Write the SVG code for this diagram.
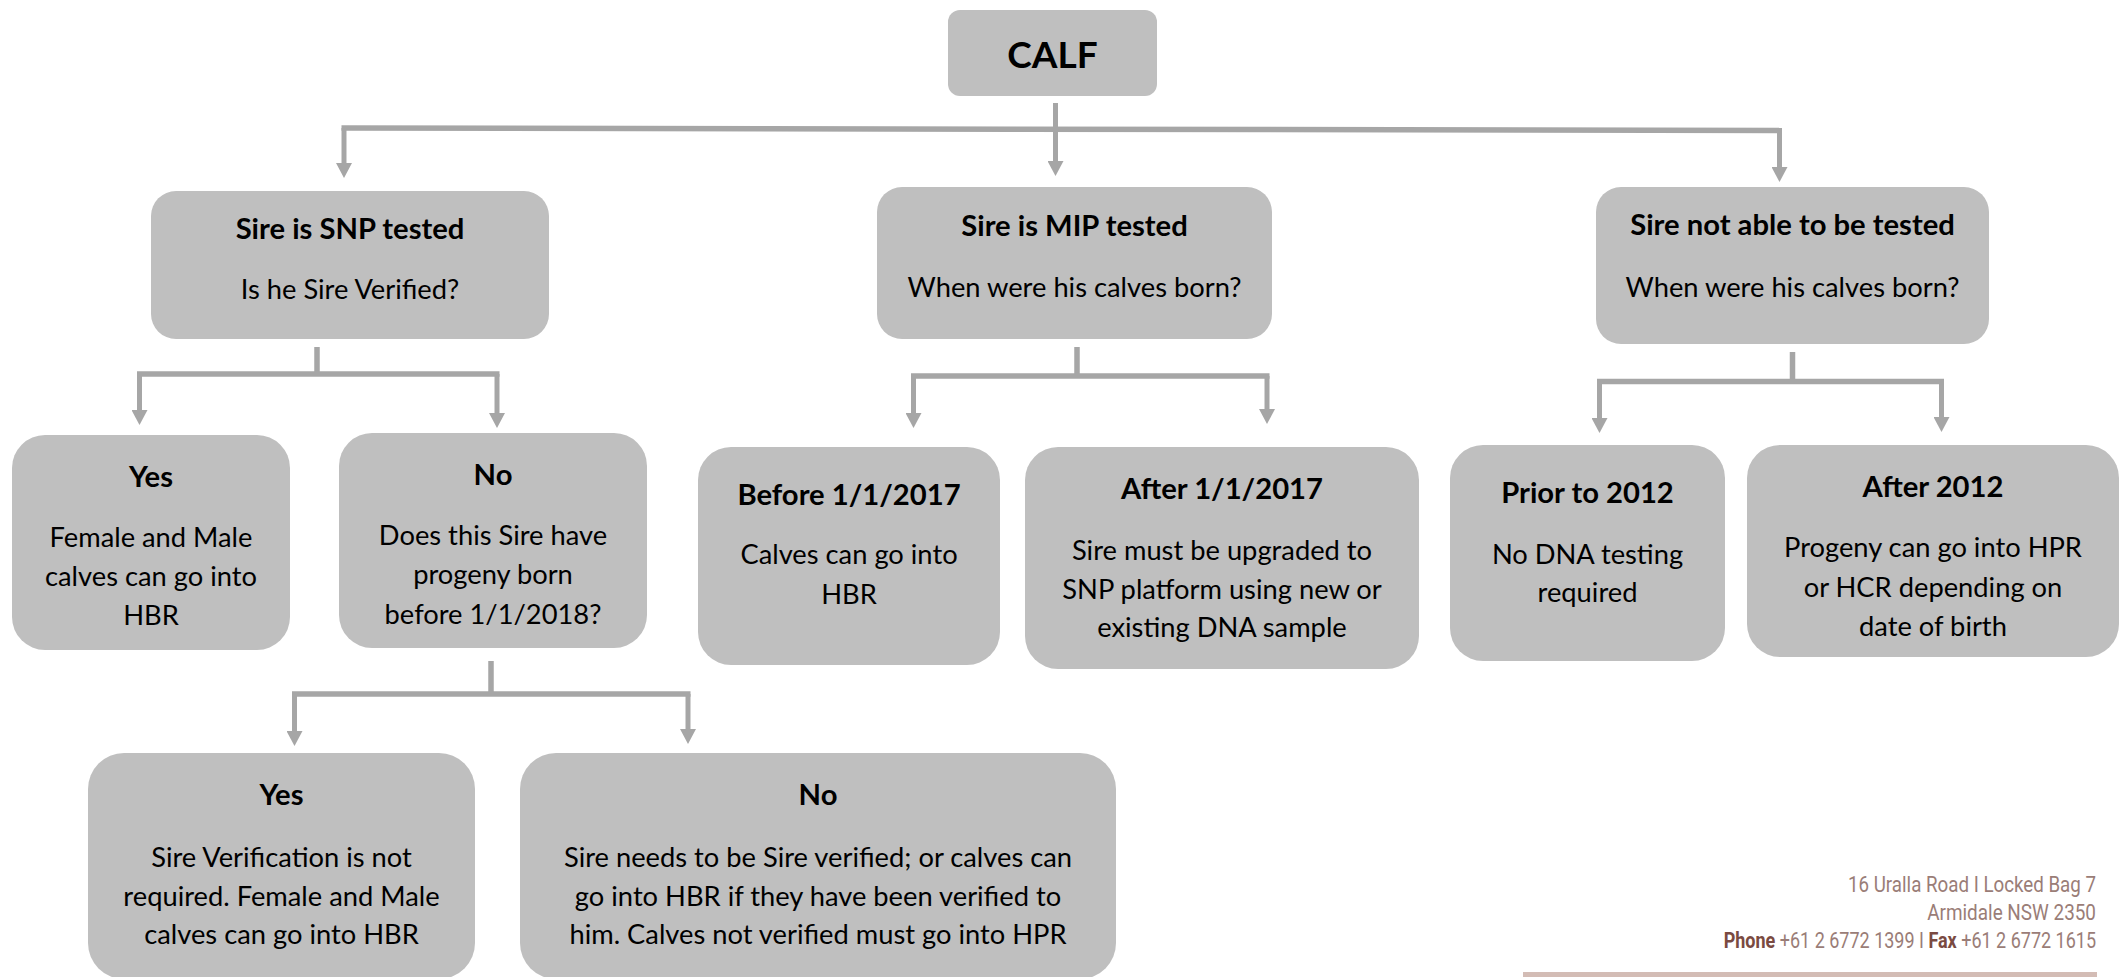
<svg xmlns="http://www.w3.org/2000/svg" width="2121" height="977" viewBox="0 0 2121 977">
<style>
.box{fill:#bfbfbf}
.t{font-family:Lato,"Liberation Sans",sans-serif;font-weight:bold;font-size:29.2px;fill:#000;text-anchor:middle}
.b{font-family:Lato,"Liberation Sans",sans-serif;font-size:27.3px;fill:#000;text-anchor:middle}
.ln{stroke:#a6a6a6;stroke-width:5.5;fill:none}
.dr{stroke:#a6a6a6;stroke-width:5;fill:none;marker-end:url(#ah)}
.ft{font-family:Roboto,"Liberation Sans",sans-serif;font-size:22.5px;fill:#9a7d77;text-anchor:end}
.fb{font-weight:bold;fill:#7a4a41}
</style>
<defs>
<marker id="ah" viewBox="0 0 15 16" refX="2" refY="8" markerWidth="15" markerHeight="16" markerUnits="userSpaceOnUse" orient="auto">
<path d="M0,0 L15,8 L0,16 z" fill="#a6a6a6"/>
</marker>
</defs>
<rect width="2121" height="977" fill="#fff"/>

<g id="connectors">
<path class="ln" d="M341.5,128 L1782,130.5"/>
<line class="dr" x1="344" y1="128" x2="344" y2="165"/>
<line class="dr" x1="1055.5" y1="103" x2="1055.5" y2="163"/>
<line class="dr" x1="1779.5" y1="130.5" x2="1779.5" y2="169"/>

<line class="ln" x1="317" y1="347" x2="317" y2="374"/>
<path class="ln" d="M137,374 L499.5,374"/>
<line class="dr" x1="139.5" y1="374" x2="139.5" y2="412"/>
<line class="dr" x1="497" y1="374" x2="497" y2="415"/>

<line class="ln" x1="1077" y1="347" x2="1077" y2="376"/>
<path class="ln" d="M911,376 L1269.5,376"/>
<line class="dr" x1="913.5" y1="376" x2="913.5" y2="415"/>
<line class="dr" x1="1267" y1="376" x2="1267" y2="411"/>

<line class="ln" x1="1792.5" y1="352" x2="1792.5" y2="381.5"/>
<path class="ln" d="M1597,381.5 L1944,381.5"/>
<line class="dr" x1="1599.5" y1="381.5" x2="1599.5" y2="420"/>
<line class="dr" x1="1941.5" y1="381.5" x2="1941.5" y2="419"/>

<line class="ln" x1="491" y1="661" x2="491" y2="694"/>
<path class="ln" d="M292,694 L690.5,694"/>
<line class="dr" x1="294.5" y1="694" x2="294.5" y2="733"/>
<line class="dr" x1="688" y1="694" x2="688" y2="731"/>
</g>

<g id="calf">
<rect class="box" x="948" y="10" width="209" height="86" rx="12"/>
<text class="t" x="1052.5" y="68" style="font-size:37px">CALF</text>
</g>

<g id="sire-snp">
<rect class="box" x="151" y="191" width="398" height="148" rx="25"/>
<text class="t" x="350" y="239">Sire is SNP tested</text>
<text class="b" x="350" y="299">Is he Sire Verified?</text>
</g>

<g id="sire-mip">
<rect class="box" x="877" y="187" width="395" height="152" rx="25"/>
<text class="t" x="1074.5" y="236">Sire is MIP tested</text>
<text class="b" x="1074.5" y="297">When were his calves born?</text>
</g>

<g id="sire-not-tested">
<rect class="box" x="1596" y="187" width="393" height="157" rx="25"/>
<text class="t" x="1792.5" y="235">Sire not able to be tested</text>
<text class="b" x="1792.5" y="297">When were his calves born?</text>
</g>

<g id="snp-yes">
<rect class="box" x="12" y="435" width="278" height="215" rx="33"/>
<text class="t" x="151" y="487">Yes</text>
<text class="b" x="151" y="547">Female and Male</text>
<text class="b" x="151" y="586">calves can go into</text>
<text class="b" x="151" y="625">HBR</text>
</g>

<g id="snp-no">
<rect class="box" x="339" y="433" width="308" height="215" rx="33"/>
<text class="t" x="493" y="485">No</text>
<text class="b" x="493" y="545">Does this Sire have</text>
<text class="b" x="493" y="584">progeny born</text>
<text class="b" x="493" y="624">before 1/1/2018?</text>
</g>

<g id="mip-before">
<rect class="box" x="698" y="447" width="302" height="218" rx="33"/>
<text class="t" x="849" y="505">Before 1/1/2017</text>
<text class="b" x="849" y="564">Calves can go into</text>
<text class="b" x="849" y="604">HBR</text>
</g>

<g id="mip-after">
<rect class="box" x="1025" y="447" width="394" height="222" rx="33"/>
<text class="t" x="1222" y="499">After 1/1/2017</text>
<text class="b" x="1222" y="560">Sire must be upgraded to</text>
<text class="b" x="1222" y="599">SNP platform using new or</text>
<text class="b" x="1222" y="637">existing DNA sample</text>
</g>

<g id="prior-2012">
<rect class="box" x="1450" y="445" width="275" height="216" rx="33"/>
<text class="t" x="1587.5" y="503">Prior to 2012</text>
<text class="b" x="1587.5" y="564">No DNA testing</text>
<text class="b" x="1587.5" y="602">required</text>
</g>

<g id="after-2012">
<rect class="box" x="1747" y="445" width="372" height="212" rx="33"/>
<text class="t" x="1933" y="497">After 2012</text>
<text class="b" x="1933" y="557">Progeny can go into HPR</text>
<text class="b" x="1933" y="597">or HCR depending on</text>
<text class="b" x="1933" y="636">date of birth</text>
</g>

<g id="progeny-yes">
<rect class="box" x="88" y="753" width="387" height="226" rx="36"/>
<text class="t" x="281.5" y="805">Yes</text>
<text class="b" x="281.5" y="867">Sire Verification is not</text>
<text class="b" x="281.5" y="906">required. Female and Male</text>
<text class="b" x="281.5" y="944">calves can go into HBR</text>
</g>

<g id="progeny-no">
<rect class="box" x="520" y="753" width="596" height="226" rx="36"/>
<text class="t" x="818" y="805">No</text>
<text class="b" x="818" y="867">Sire needs to be Sire verified; or calves can</text>
<text class="b" x="818" y="906">go into HBR if they have been verified to</text>
<text class="b" x="818" y="944">him. Calves not verified must go into HPR</text>
</g>

<g id="footer">
<g transform="translate(2096,0) scale(0.8,1)">
<text class="ft" x="0" y="892" textLength="310" lengthAdjust="spacingAndGlyphs">16 Uralla Road I Locked Bag 7</text>
<text class="ft" x="0" y="920" textLength="211" lengthAdjust="spacingAndGlyphs">Armidale NSW 2350</text>
<text class="ft" x="0" y="948"><tspan class="fb">Phone</tspan> +61 2 6772 1399 I <tspan class="fb">Fax</tspan> +61 2 6772 1615</text>
</g>
<rect x="1523" y="972" width="574" height="5" fill="#d3bcb5"/>
</g>
</svg>
